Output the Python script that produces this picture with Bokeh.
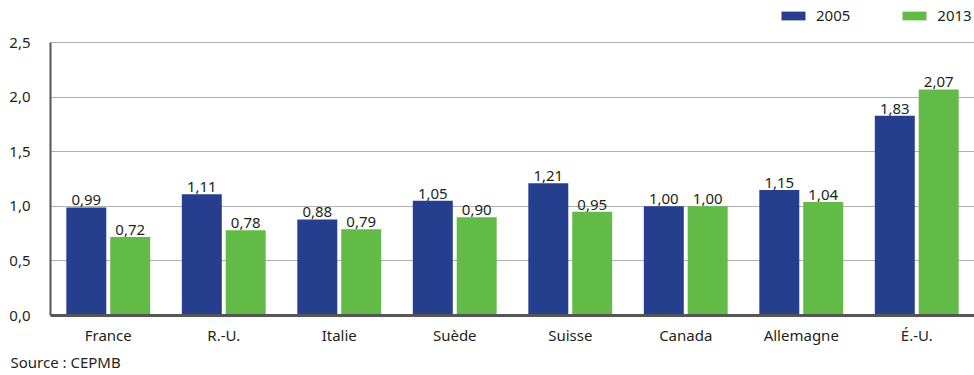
from bokeh.plotting import figure
from bokeh.models import ColumnDataSource, FactorRange, FixedTicker, Legend, LegendItem, Title
from bokeh.transform import dodge
from bokeh.core.properties import value
from bokeh.embed import file_html
from bokeh.resources import INLINE

categories = ["France", "R.-U.", "Italie", "Suède", "Suisse", "Canada", "Allemagne", "É.-U."]
v2005 = [0.99, 1.11, 0.88, 1.05, 1.21, 1.00, 1.15, 1.83]
v2013 = [0.72, 0.78, 0.79, 0.90, 0.95, 1.00, 1.04, 2.07]
y_ticks = [0.0, 0.5, 1.0, 1.5, 2.0, 2.5]
series = ["2005", "2013"]
source_text = "Source : CEPMB"

FONT = "Noto Sans"
FS = "15px"
BLUE = "#253f8e"
GREEN = "#62bb46"
TXT = "#231f20"

def fr(v):
    return f"{v:.2f}".replace(".", ",")

src = ColumnDataSource(dict(
    cat=categories, a=v2005, b=v2013,
    la=[fr(v) for v in v2005], lb=[fr(v) for v in v2013],
))

# frame spans the full height above the x axis; top gridline (2.5) sits 42px below the top
y_top = 2.5 * 315 / 273

p = figure(width=974, height=375, x_range=FactorRange(*categories, range_padding=0),
           y_range=(0, y_top), output_backend="svg", toolbar_location=None,
           min_border_left=50, min_border_right=0, min_border_top=0, min_border_bottom=60)
p.outline_line_color = None
p.background_fill_color = "white"

r1 = p.vbar(x=dodge("cat", -0.19, range=p.x_range), top="a", width=0.346, source=src,
            fill_color=BLUE, line_color=None)
r2 = p.vbar(x=dodge("cat", 0.19, range=p.x_range), top="b", width=0.346, source=src,
            fill_color=GREEN, line_color=None)

for col, lab, off in (("a", "la", -0.19), ("b", "lb", 0.19)):
    p.text(x=dodge("cat", off, range=p.x_range), y=col, text=lab, source=src,
           text_align="center", text_baseline="bottom", y_offset=-2,
           text_font=value(FONT), text_font_size=FS, text_color=TXT)

p.xgrid.grid_line_color = None
p.ygrid.grid_line_color = "#b0b0b0"
p.ygrid.grid_line_width = 1
p.ygrid.ticker = FixedTicker(ticks=y_ticks)

p.yaxis.ticker = FixedTicker(ticks=y_ticks)
p.yaxis.bounds = (0, 2.5)
p.yaxis.major_label_overrides = {t: f"{t:.1f}".replace(".", ",") for t in y_ticks}
p.yaxis.axis_line_color = "#555555"
p.yaxis.axis_line_width = 2
p.yaxis.major_tick_line_color = None
p.yaxis.minor_tick_line_color = None
p.yaxis.major_label_standoff = 14
p.yaxis.major_label_text_font = FONT
p.yaxis.major_label_text_font_size = FS
p.yaxis.major_label_text_color = TXT

p.xaxis.axis_line_color = "#555555"
p.xaxis.axis_line_width = 3
p.xaxis.major_tick_line_color = None
p.xaxis.minor_tick_line_color = None
p.xaxis.major_label_standoff = 3
p.xaxis.major_label_text_font = FONT
p.xaxis.major_label_text_font_size = FS
p.xaxis.major_label_text_color = TXT

legend = Legend(items=[LegendItem(label=series[0], renderers=[r1]),
                       LegendItem(label=series[1], renderers=[r2])],
                orientation="horizontal", location=(728, 290),
                glyph_width=30, glyph_height=11, label_standoff=8, spacing=49,
                padding=0, margin=0, border_line_color=None, background_fill_alpha=0,
                label_text_font=FONT, label_text_font_size=FS, label_text_color=TXT,
                label_height=11)
p.add_layout(legend, "center")

src_title = Title(text=source_text, align="left", offset=-40, standoff=5,
                  text_font=FONT, text_font_size=FS, text_font_style="normal",
                  text_color=TXT)
p.add_layout(src_title, "below")

open("out.html", "w").write(file_html(p, INLINE))
